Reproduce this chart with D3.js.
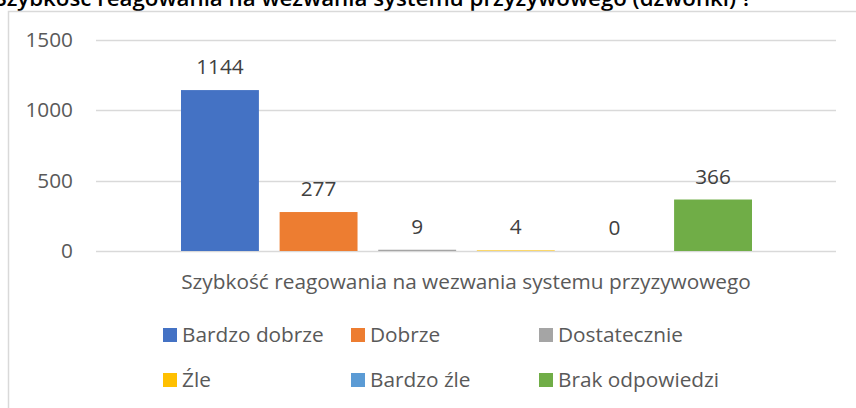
<!DOCTYPE html>
<html><head><meta charset="utf-8">
<script src="https://cdn.jsdelivr.net/npm/d3@7"></script>
<style>html,body{margin:0;padding:0;background:#fff;}svg{display:block;}</style>
</head><body>
<svg id="c" width="856" height="408"></svg>
<script>
const title = "Szybkość reagowania na wezwania systemu przyzywowego (dzwonki) ?";
const category = "Szybkość reagowania na wezwania systemu przyzywowego";
const series = ["Bardzo dobrze", "Dobrze", "Dostatecznie", "Źle", "Bardzo źle", "Brak odpowiedzi"];
const values = [1144, 277, 9, 4, 0, 366];
const colors = ["#4472C4", "#ED7D31", "#A5A5A5", "#FFC000", "#5B9BD5", "#70AD47"];
const yTicks = [0, 500, 1000, 1500];

const FONT = "'Open Sans', sans-serif";
const FS = 20.8;
const svg = d3.select("#c");

// title (partly clipped at top)
const t = svg.append("text").attr("x", 752).attr("y", 6).attr("text-anchor", "end")
  .attr("font-family", FONT).attr("font-size", 20).attr("font-weight", 600)
  .attr("fill", "#000").text(title);
const tw = t.node().getComputedTextLength();
t.attr("font-size", 20 * 758 / tw);

// chart border
svg.append("rect").attr("x", 8.5).attr("y", 11.5).attr("width", 900).attr("height", 500)
  .attr("fill", "none").attr("stroke", "#D9D9D9").attr("stroke-width", 1.5);

const y = d3.scaleLinear().domain([0, 1500]).range([251, 40]);
const xCat = d3.scaleBand().domain([category]).range([96, 836]);
const xs = d3.scaleBand().domain(series).range([181, 752]).paddingInner(0.21).paddingOuter(0);

// gridlines
svg.append("g").selectAll("line").data(yTicks).join("line")
  .attr("x1", 96).attr("x2", 836)
  .attr("y1", d => Math.round(y(d)) + 0.5).attr("y2", d => Math.round(y(d)) + 0.5)
  .attr("stroke", "#D9D9D9").attr("stroke-width", 1.5);

// y axis labels
const yAxis = d3.axisLeft(y).tickValues(yTicks).tickFormat(d3.format("d")).tickSize(0).tickPadding(0);
const gy = svg.append("g").attr("transform", "translate(73,0)").call(yAxis);
gy.select(".domain").remove();
gy.selectAll("text").attr("font-family", FONT).attr("font-size", FS).attr("fill", "#595959");

// bars
svg.append("g").selectAll("rect").data(series).join("rect")
  .attr("x", d => xs(d)).attr("width", xs.bandwidth())
  .attr("y", (d, i) => y(values[i])).attr("height", (d, i) => y(0) - y(values[i]))
  .attr("fill", (d, i) => colors[i]);

// value labels
svg.append("g").selectAll("text").data(series).join("text")
  .attr("x", d => xs(d) + xs.bandwidth() / 2)
  .attr("y", (d, i) => y(values[i]) - 16)
  .attr("text-anchor", "middle")
  .attr("font-family", FONT).attr("font-size", FS).attr("fill", "#404040")
  .text((d, i) => values[i]);

// category axis
const xAxis = d3.axisBottom(xCat).tickSize(0).tickPadding(0);
const gx = svg.append("g").attr("transform", "translate(0,289)").call(xAxis);
gx.select(".domain").remove();
gx.selectAll("text").attr("dy", 0).attr("font-family", FONT).attr("font-size", FS).attr("fill", "#595959");

// legend
const legX = [163, 351, 539];
const legY = [335, 380];
const leg = svg.append("g").selectAll("g").data(series).join("g")
  .attr("transform", (d, i) => `translate(${legX[i % 3]},${legY[Math.floor(i / 3)]})`);
leg.append("rect").attr("x", 0).attr("y", -7).attr("width", 14).attr("height", 14)
  .attr("fill", (d, i) => colors[i]);
leg.append("text").attr("x", 19).attr("y", 7)
  .attr("font-family", FONT).attr("font-size", FS).attr("fill", "#595959").text(d => d);
</script>
</body></html>
